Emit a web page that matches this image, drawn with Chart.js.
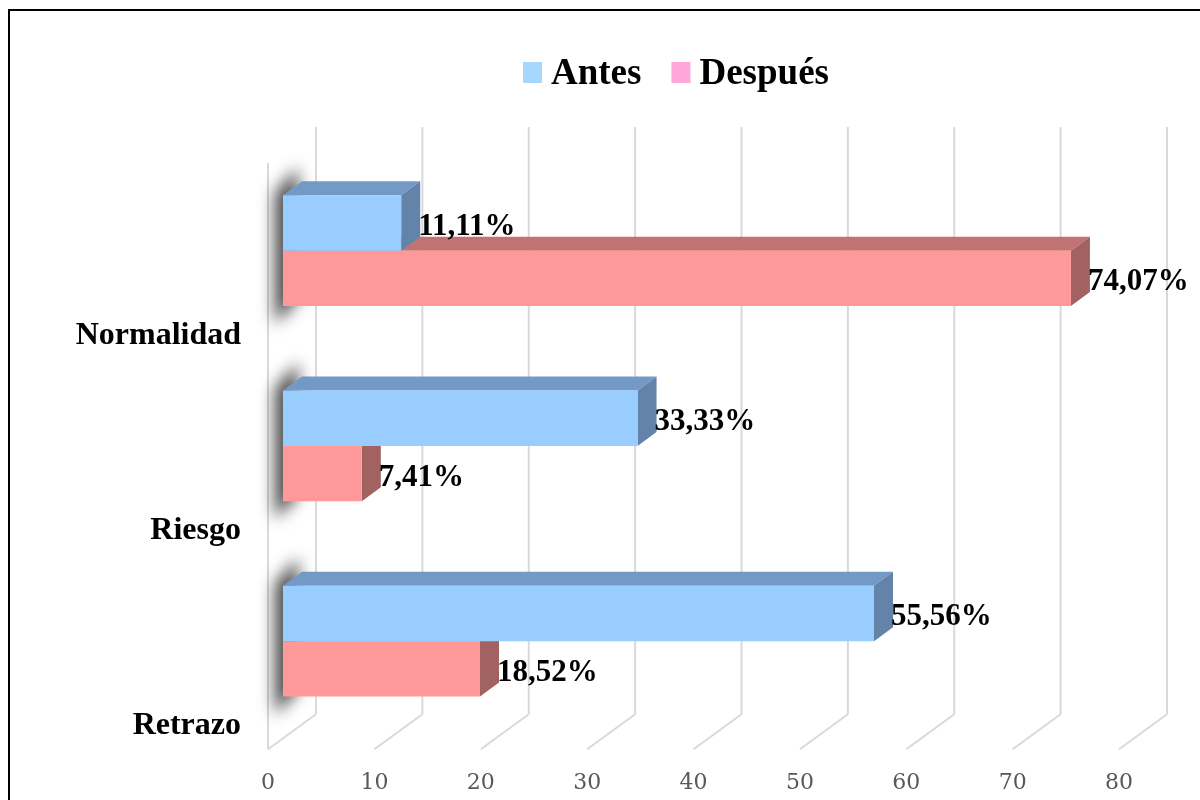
<!DOCTYPE html>
<html><head><meta charset="utf-8">
<script src="https://cdn.jsdelivr.net/npm/chart.js@4/dist/chart.umd.min.js"></script>
<style>html,body{margin:0;padding:0;background:#fff;}#wrap{width:1200px;height:800px;position:relative;}</style>
</head><body><div id="wrap"><canvas id="c" width="1200" height="800"></canvas></div>
<script>
const categories = ['Normalidad', 'Riesgo', 'Retrazo'];
const seriesNames = ['Antes', 'Después'];
const antesValues = [11.11, 33.33, 55.56];
const despuesValues = [74.07, 7.41, 18.52];
const xTicks = [0, 10, 20, 30, 40, 50, 60, 70, 80];

const styles = [
  {front: '#99CCFF', top: '#7399C6', side: '#6384A8', legend: '#A6D8FF'},
  {front: '#FF9999', top: '#C17373', side: '#A36262', legend: '#FFA6DA'}
];
const DX = 19, DY = 14;
const FRONT_OFF = -15, BACK_OFF = 33;
const SERIF = '"Liberation Serif", "Times New Roman", serif';

function fmt(v) { return v.toFixed(2).replace('.', ',') + '%'; }

const threeD = {
  id: 'threeD',
  beforeDatasetsDraw(chart) {
    const ctx = chart.ctx, xs = chart.scales.x, a = chart.chartArea;
    const floorFront = a.bottom + 10.5, floorBack = a.bottom - 24.5;
    ctx.save();
    ctx.strokeStyle = '#D9D9D9';
    ctx.lineWidth = 2;
    xTicks.forEach(v => {
      const px = xs.getPixelForValue(v);
      const bx = px + BACK_OFF, fx = px + FRONT_OFF;
      ctx.beginPath();
      ctx.moveTo(bx, a.top - 26); ctx.lineTo(bx, floorBack);
      ctx.moveTo(fx, floorFront); ctx.lineTo(bx, floorBack);
      ctx.stroke();
    });
    const f0 = xs.getPixelForValue(0) + FRONT_OFF;
    ctx.beginPath(); ctx.moveTo(f0, a.top + 10); ctx.lineTo(f0, floorFront); ctx.stroke();
    ctx.restore();

    const m0 = chart.getDatasetMeta(0).data, m1 = chart.getDatasetMeta(1).data;
    // shadows
    categories.forEach((c, i) => {
      const b0 = m0[i].getProps(['y', 'base', 'height'], true);
      const b1 = m1[i].getProps(['y', 'base', 'height'], true);
      const top = b0.y - b0.height / 2, bottom = b1.y + b1.height / 2, base = b0.base;
      ctx.save();
      ctx.filter = 'blur(8px)';
      ctx.fillStyle = 'rgba(0,0,0,0.72)';
      ctx.beginPath();
      ctx.moveTo(base - 8, top - 2);
      ctx.lineTo(base + DX - 4, top - DY - 14);
      ctx.lineTo(base + DX - 4, bottom - DY + 8);
      ctx.lineTo(base - 8, bottom + 18);
      ctx.closePath();
      ctx.fill();
      ctx.restore();
    });
    // top and side faces
    [1, 0].forEach(d => {
      chart.getDatasetMeta(d).data.forEach(el => {
        const p = el.getProps(['x', 'y', 'base', 'height'], true);
        const top = p.y - p.height / 2, bottom = p.y + p.height / 2;
        ctx.fillStyle = styles[d].top;
        ctx.beginPath();
        ctx.moveTo(p.base, top); ctx.lineTo(p.base + DX, top - DY);
        ctx.lineTo(p.x + DX, top - DY); ctx.lineTo(p.x, top); ctx.closePath(); ctx.fill();
        ctx.fillStyle = styles[d].side;
        ctx.beginPath();
        ctx.moveTo(p.x, top); ctx.lineTo(p.x + DX, top - DY);
        ctx.lineTo(p.x + DX, bottom - DY); ctx.lineTo(p.x, bottom); ctx.closePath(); ctx.fill();
      });
    });
  },
  afterDatasetsDraw(chart) {
    const ctx = chart.ctx;
    ctx.save();
    ctx.font = 'bold 31px ' + SERIF;
    ctx.fillStyle = '#000';
    ctx.textAlign = 'left';
    ctx.textBaseline = 'middle';
    chart.data.datasets.forEach((ds, d) => {
      chart.getDatasetMeta(d).data.forEach((el, i) => {
        const p = el.getProps(['x', 'y'], true);
        ctx.fillText(fmt(ds.data[i]), p.x + 17, p.y + 4);
      });
    });
    ctx.restore();
  },
  afterDraw(chart) {
    const ctx = chart.ctx;
    ctx.save();
    // legend
    ctx.font = 'bold 37px ' + SERIF;
    ctx.textBaseline = 'alphabetic';
    ctx.textAlign = 'left';
    let x = 523;
    chart.data.datasets.forEach((ds, d) => {
      ctx.fillStyle = styles[d].legend;
      ctx.fillRect(x, 62, 19, 21);
      ctx.fillStyle = '#000';
      ctx.fillText(ds.label, x + 28, 84);
      x += 28 + ctx.measureText(ds.label).width + 30;
    });
    // frame
    ctx.strokeStyle = '#000';
    ctx.lineWidth = 2;
    ctx.strokeRect(9, 10, 1220, 820);
    ctx.restore();
  }
};

new Chart(document.getElementById('c'), {
  type: 'bar',
  data: {
    labels: categories,
    datasets: [
      {label: seriesNames[0], data: antesValues, backgroundColor: styles[0].front, borderWidth: 0, categoryPercentage: 0.568, barPercentage: 1},
      {label: seriesNames[1], data: despuesValues, backgroundColor: styles[1].front, borderWidth: 0, categoryPercentage: 0.568, barPercentage: 1}
    ]
  },
  options: {
    indexAxis: 'y',
    responsive: false,
    animation: false,
    layout: {padding: {top: 153, right: 66, bottom: 0, left: 0}},
    plugins: {legend: {display: false}, tooltip: {enabled: false}},
    scales: {
      x: {
        min: 0, max: 80,
        afterBuildTicks(s) { s.ticks = xTicks.map(v => ({value: v})); },
        ticks: {font: {family: '"DejaVu Serif", serif', size: 22}, color: '#595959', labelOffset: FRONT_OFF, padding: 31, maxRotation: 0, autoSkip: false},
        grid: {display: false, drawTicks: false},
        border: {display: false},
        afterFit(s) { s.height = 60.5; }
      },
      y: {
        ticks: {font: {family: SERIF, size: 32, weight: 'bold'}, color: '#000', padding: 42, labelOffset: 85},
        grid: {display: false, drawTicks: false},
        border: {display: false},
        afterFit(s) { s.width = 283; }
      }
    }
  },
  plugins: [threeD]
});
</script>
</body></html>
